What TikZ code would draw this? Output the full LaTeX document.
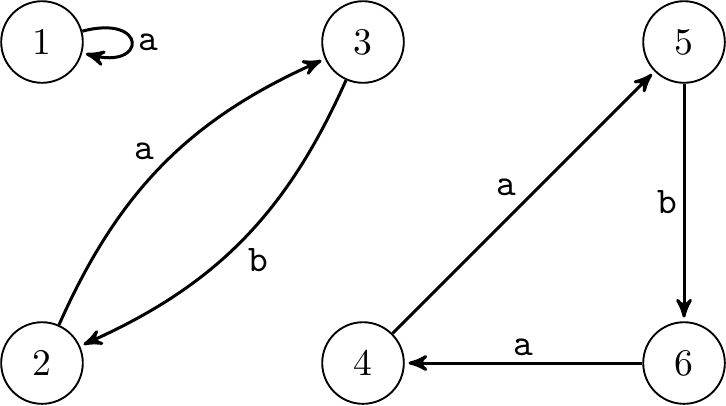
\documentclass[tikz,border=0pt]{standalone}
\usetikzlibrary{arrows}
\begin{document}
\begin{tikzpicture}[x=3cm,y=3cm,
  statenode/.style={circle,draw,line width=0.5pt,minimum size=21.7pt,inner sep=0pt},
  edge/.style={->,>=stealth',thick,shorten >=1pt},
  lbl/.style={font=\ttfamily,inner sep=1.5pt}]
\useasboundingbox (-0.1308,-1.1308) rectangle (2.1308,0.1308);
\node[statenode] (n1) at (0,0) {1};
\node[statenode] (n3) at (1,0) {3};
\node[statenode] (n5) at (2,0) {5};
\node[statenode] (n2) at (0,-1) {2};
\node[statenode] (n4) at (1,-1) {4};
\node[statenode] (n6) at (2,-1) {6};
\draw[edge] (n1) to[loop right] node[lbl,right] {a} (n1);
\draw[edge] (n2) to[bend left=21] node[lbl,above left,pos=0.49] {a} (n3);
\draw[edge] (n3) to[bend left=21] node[lbl,below right,pos=0.5] {b} (n2);
\draw[edge] (n4) -- node[lbl,above left,pos=0.5] {a} (n5);
\draw[edge] (n5) -- node[lbl,left] {b} (n6);
\draw[edge] (n6) -- node[lbl,above] {a} (n4);
\end{tikzpicture}
\end{document}
